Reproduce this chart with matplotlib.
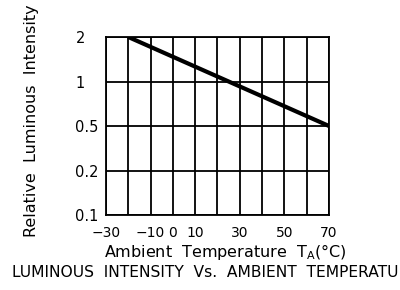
import numpy as np
import matplotlib.pyplot as plt

# data
temps = [-20, 70]            # ambient temperature, deg C
intensity = [2.0, 0.5]       # relative luminous intensity
y_ticks = [0.1, 0.2, 0.5, 1, 2]
y_tick_labels = ['0.1', '0.2', '0.5', '1', '2']
x_ticks = [-30, -10, 0, 10, 30, 50, 70]
x_tick_labels = ['\u221230', '\u221210', '0', '10', '30', '50', '70']

# the chart puts the y ticks at equal spacing, so map values onto tick positions
def ypos(v):
    return np.interp(np.log10(v), np.log10(y_ticks), np.arange(len(y_ticks)))

fig = plt.figure(figsize=(4, 2.9), dpi=100)
ax = fig.add_axes([0.265, 0.2586, 0.5575, 0.6138])

ax.plot(temps, ypos(np.array(intensity)), color='black', lw=3.0, solid_capstyle='butt')

ax.set_xlim(-30, 70)
ax.set_ylim(0, len(y_ticks) - 1)
ax.set_xticks(np.arange(-30, 71, 10), minor=True)
ax.set_xticks(x_ticks)
ax.set_xticklabels(x_tick_labels, fontsize=10)
ax.set_yticks(np.arange(len(y_ticks)))
ax.set_yticklabels(y_tick_labels, fontsize=10.5, ha='left', va='center_baseline')
ax.tick_params(axis='both', which='both', length=0)
ax.tick_params(axis='y', pad=22)
ax.tick_params(axis='x', pad=8)

ax.grid(True, which='both', color='black', lw=1.3)
for s in ax.spines.values():
    s.set_linewidth(1.3)

fig.text(0.562, 0.132, 'Ambient  Temperature  T$_{\\mathregular{A}}$(\u00b0C)', fontsize=11.5,
         ha='center', va='center')
fig.text(0.03, 0.062, 'LUMINOUS  INTENSITY  Vs.  AMBIENT  TEMPERATURE', fontsize=11.2,
         ha='left', va='center')
fig.text(0.078, 0.585, 'Relative  Luminous  Intensity', fontsize=11.5, rotation=90,
         ha='center', va='center')

fig.savefig('out.png', dpi=100)
